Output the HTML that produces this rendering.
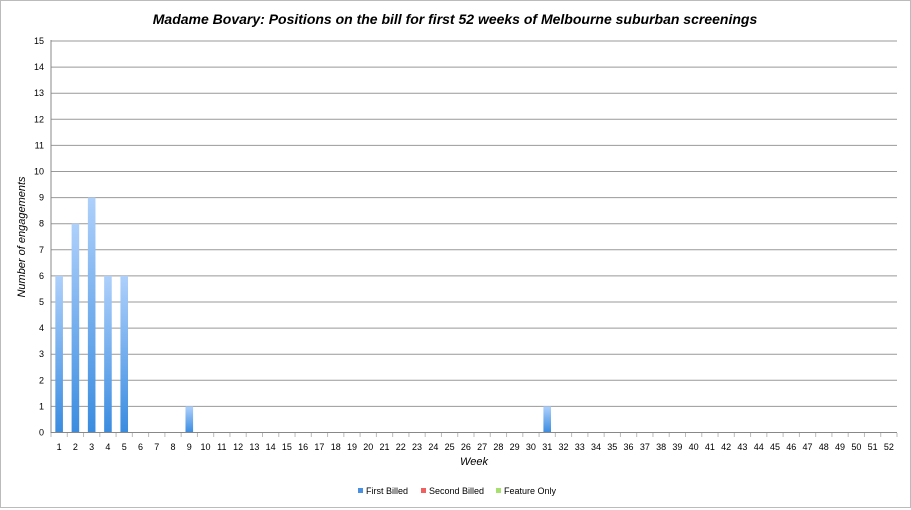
<!DOCTYPE html>
<html><head><meta charset="utf-8"><style>html,body{margin:0;padding:0;background:#fff}svg{display:block}</style></head>
<body>
<svg width="911" height="510" xmlns="http://www.w3.org/2000/svg" font-family="Liberation Sans, sans-serif">
<defs>
<linearGradient id="g" x1="0" y1="1" x2="0" y2="0">
<stop offset="0" stop-color="#3a8ce0"/><stop offset="1" stop-color="#aed0fb"/>
</linearGradient>
</defs>
<rect x="0.5" y="0.5" width="910" height="507" fill="#fff" stroke="#bbb"/>
<text x="455" y="24" text-anchor="middle" font-size="14" font-weight="bold" font-style="italic">Madame Bovary: Positions on the bill for first 52 weeks of Melbourne suburban screenings</text>
<g id="grid" stroke="#999" stroke-width="1"></g>
<g id="bars"></g>
<g id="lab" font-size="9" fill="#000"></g>
<line x1="51" y1="40" x2="51" y2="433" stroke="#888"/>
<line x1="51" y1="432.5" x2="897" y2="432.5" stroke="#888"/>
<text x="474" y="465" text-anchor="middle" font-size="11" font-style="italic">Week</text>
<text transform="translate(25,237) rotate(-90)" text-anchor="middle" font-size="11" font-style="italic">Number of engagements</text>
<g font-size="9">
<rect x="358" y="488" width="5" height="5" fill="#4a90e2"/><text x="366" y="494">First Billed</text>
<rect x="421" y="488" width="5" height="5" fill="#f06060"/><text x="429" y="494">Second Billed</text>
<rect x="496" y="488" width="5" height="5" fill="#a8e070"/><text x="504" y="494">Feature Only</text>
</g>
<script>
var ns="http://www.w3.org/2000/svg",gr=document.getElementById("grid"),b=document.getElementById("bars"),l=document.getElementById("lab");
function el(p,t,a,txt){var e=document.createElementNS(ns,t);for(var k in a)e.setAttribute(k,a[k]);if(txt!==undefined)e.textContent=txt;p.appendChild(e);return e;}
var y0=432.5,u=26.1,x0=51,cw=(897-51)/52;
for(var i=0;i<=15;i++){var y=y0-i*u;if(i>0)el(gr,"line",{x1:x0,x2:897,y1:y,y2:y});el(l,"text",{x:44,y:y+3,"text-anchor":"end"},i);}
for(var j=0;j<=52;j++){var x=x0+j*cw;el(gr,"line",{x1:x,x2:x,y1:433,y2:437,stroke:"#bbb"});}
var d={1:6,2:8,3:9,4:6,5:6,9:1,31:1};
for(var w=1;w<=52;w++){var cx=x0+(w-0.5)*cw;el(l,"text",{x:cx,y:450,"text-anchor":"middle"},w);
if(d[w]){var h=d[w]*u;el(b,"rect",{x:cx-3.8,y:y0-h,width:7.6,height:h,fill:"url(#g)"});}}
</script>
</svg>
</body></html>
